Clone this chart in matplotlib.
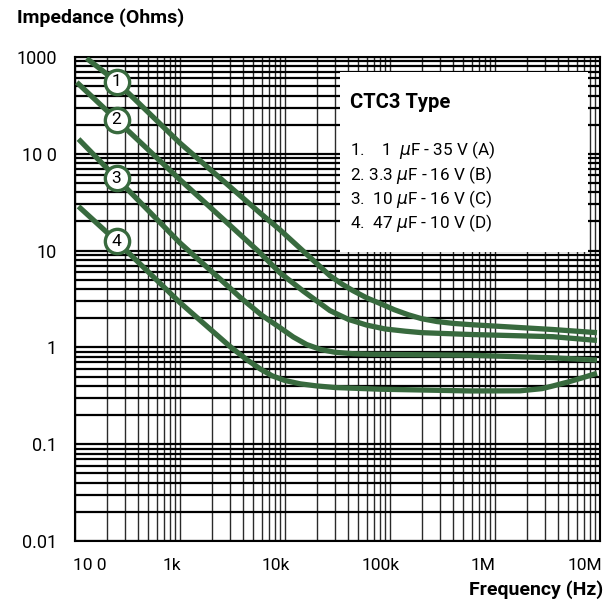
import matplotlib
matplotlib.use("Agg")
import matplotlib.pyplot as plt
from matplotlib.ticker import LogLocator, NullFormatter, FixedLocator
from matplotlib.transforms import ScaledTranslation
from matplotlib.patches import Rectangle

plt.rcParams['font.family'] = ['Roboto', 'DejaVu Sans']

# ---------------- data ----------------
f1 = [129, 249, 1000, 5780, 8950, 18000, 26800, 35000, 44500, 60000, 80000, 110000, 150000,
      200000, 280000, 400000, 578000, 1000000, 3570000, 9360000]
z1 = [970, 556, 129, 24.5, 16.4, 8.2, 5.5, 4.5, 3.85, 3.25, 2.85, 2.45, 2.17,
      1.98, 1.85, 1.77, 1.72, 1.66, 1.53, 1.42]

f2 = [104, 249, 1000, 5780, 8950, 15000, 26800, 40000, 60000, 90000, 140000, 200000,
      578000, 3570000, 9360000]
z2 = [548, 224, 54, 9.5, 5.9, 3.8, 2.4, 1.95, 1.7, 1.55, 1.47, 1.42,
      1.36, 1.29, 1.18]

f3 = [108, 249, 1000, 2000, 3730, 6000, 8950, 12000, 16100, 22000, 30000, 45000, 64600,
      578000, 3570000, 9360000]
z3 = [142, 56, 12, 6.1, 3.3, 2.15, 1.6, 1.28, 1.07, 0.95, 0.89, 0.86, 0.85,
      0.83, 0.78, 0.74]

f4 = [108, 249, 1000, 2000, 3000, 4310, 5800, 7500, 10000, 14000, 20000, 30000, 80300,
      578000, 1730000, 2800000, 3570000, 5000000, 7000000, 9360000]
z4 = [28.6, 12.5, 2.9, 1.5, 1.02, 0.75, 0.6, 0.51, 0.455, 0.42, 0.40, 0.385, 0.37,
      0.355, 0.356, 0.375, 0.40, 0.44, 0.49, 0.54]

series_f = [f1, f2, f3, f4]
series_z = [z1, z2, z3, z4]

marker_labels = ["1", "2", "3", "4"]
marker_f = [249, 249, 249, 249]
marker_z = [556, 224, 56, 12.5]

x_ticks = [1e2, 1e3, 1e4, 1e5, 1e6, 1e7]
x_tick_labels = ["10 0", "1k", "10k", "100k", "1M", "10M"]
x_label_shift_px = [14.5, -8.5, -9.5, -9, -11.5, -15.5]

y_ticks = [1000, 100, 10, 1, 0.1, 0.01]
y_tick_labels = ["1000", "10 0", "10", "1", "0.1", "0.01"]

legend_title = "CTC3 Type"
legend_lines = ["1.    1  $\\mu$F - 35 V (A)",
                "2. 3.3 $\\mu$F - 16 V (B)",
                "3.  10 $\\mu$F - 16 V (C)",
                "4.  47 $\\mu$F - 10 V (D)"]

GREEN = "#386a3e"

# ---------------- figure ----------------
fig = plt.figure(figsize=(6.14, 6.11), dpi=100)
ax = fig.add_axes([75/614, 1-541/611, 525/614, 484/611])
ax.set_xscale('log')
ax.set_yscale('log')
ax.set_xlim(1e2, 1e7)
ax.set_ylim(0.01, 1000)
ax.set_axisbelow(True)

ax.xaxis.set_major_locator(FixedLocator(x_ticks))
ax.set_xticklabels(x_tick_labels)
ax.xaxis.set_minor_locator(LogLocator(base=10, subs=range(2, 10), numticks=50))
ax.xaxis.set_minor_formatter(NullFormatter())
ax.yaxis.set_major_locator(FixedLocator(y_ticks))
ax.set_yticklabels(y_tick_labels)
ax.yaxis.set_minor_locator(LogLocator(base=10, subs=range(2, 10), numticks=50))
ax.yaxis.set_minor_formatter(NullFormatter())

ax.tick_params(which='both', length=0)
ax.tick_params(axis='x', pad=12, labelsize=12.5)
ax.tick_params(axis='y', pad=13, labelsize=13)

ax.xaxis.grid(True, which='both', color='#2a2a2a', lw=1.0)
ax.yaxis.grid(True, which='both', color='black', lw=1.6)

for s in ax.spines.values():
    s.set_color('black')
    s.set_linewidth(1.5)

for lab, dx in zip(ax.get_xticklabels(), x_label_shift_px):
    lab.set_transform(lab.get_transform() + ScaledTranslation(dx/100, 0, fig.dpi_scale_trans))

# legend box
ax.add_patch(Rectangle((0.505, 0.597), 0.472, 0.372, transform=ax.transAxes,
                       facecolor='white', edgecolor='none', zorder=1.5))

for fx, zy in zip(series_f, series_z):
    ax.plot(fx, zy, color=GREEN, lw=3.8, solid_capstyle='butt', solid_joinstyle='round', zorder=3)

ax.plot(marker_f, marker_z, linestyle='none', marker='o', markersize=17.5,
        markerfacecolor='white', markeredgecolor=GREEN, markeredgewidth=2.4, zorder=4)
for lab, fx, zy in zip(marker_labels, marker_f, marker_z):
    ax.text(fx, zy, lab, ha='center', va='center', fontsize=12.5, color='black', zorder=5)

# legend text
fig.text(350/614, 1-103/611, legend_title, ha='left', va='center', fontsize=14.5, fontweight='bold')
for i, line in enumerate(legend_lines):
    fig.text(350/614, 1-(150+24.5*i)/611, line, ha='left', va='center', fontsize=12.3)

fig.text(17/614, 1-18/611, "Impedance (Ohms)", ha='left', va='center', fontsize=14, fontweight='bold')
fig.text(603/614, 1-590/611, "Frequency (Hz)", ha='right', va='center', fontsize=14, fontweight='bold')

fig.savefig("out.png", dpi=100)
